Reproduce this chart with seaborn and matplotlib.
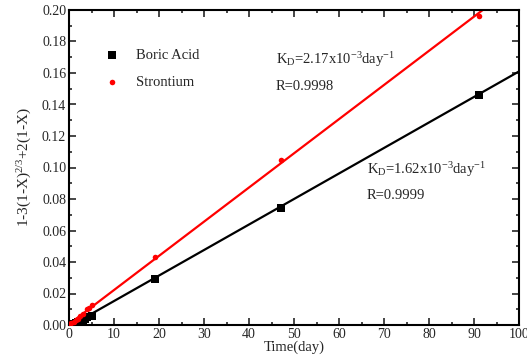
import matplotlib
matplotlib.use("Agg")
import matplotlib.pyplot as plt
import seaborn as sns
import pandas as pd
from matplotlib.ticker import MultipleLocator

sns.set_style("ticks")
plt.rcParams['font.family'] = ['Liberation Serif', 'DejaVu Serif']
plt.rcParams['mathtext.fontset'] = 'custom'
plt.rcParams['mathtext.rm'] = 'Liberation Serif'
plt.rcParams['mathtext.it'] = 'Liberation Serif'
plt.rcParams['mathtext.default'] = 'regular'

# data
boric_x = [0, 0.5, 1, 1.5, 2, 3, 3.5, 4, 5, 19, 47, 91]
boric_y = [0.0, 0.0, 0.0005, 0.001, 0.002, 0.003, 0.004, 0.005, 0.006, 0.029, 0.074, 0.146]
sr_x = [0, 0.5, 1, 1.5, 2, 2.5, 3, 4, 4.5, 5, 19, 47, 91]
sr_y = [0.0005, 0.001, 0.002, 0.003, 0.004, 0.006, 0.007, 0.010, 0.011, 0.0125, 0.043, 0.105, 0.196]
fit_x = [0, 100]
boric_fit = [-0.001, 0.161]
sr_fit = [0.0005, 0.2175]

fig = plt.figure(figsize=(5.27, 3.63), dpi=100)
ax = fig.add_axes([69/527, 38/363, 450/527, 315/363])

sns.lineplot(x=fit_x, y=boric_fit, color='black', lw=1.6, ax=ax)
sns.lineplot(x=fit_x, y=sr_fit, color='red', lw=1.6, ax=ax)
sns.scatterplot(x=boric_x, y=boric_y, marker='s', s=40, color='black', edgecolor='black',
                linewidth=0, ax=ax, label='Boric Acid', zorder=3)
sns.scatterplot(x=sr_x, y=sr_y, marker='o', s=16, color='red', edgecolor='red',
                linewidth=0, ax=ax, label='Strontium', zorder=3)

ax.set_xlim(0, 100)
ax.set_ylim(0, 0.20)
ax.xaxis.set_major_locator(MultipleLocator(10))
ax.xaxis.set_minor_locator(MultipleLocator(5))
ax.yaxis.set_major_locator(MultipleLocator(0.02))
ax.yaxis.set_minor_locator(MultipleLocator(0.01))
ax.yaxis.set_major_formatter(matplotlib.ticker.FormatStrFormatter('%.2f'))
ax.tick_params(which='both', direction='in', top=True, right=True, labelsize=10, width=1.2)
ax.tick_params(which='major', length=5, pad=2)
ax.tick_params(which='minor', length=2.5)
for s in ax.spines.values():
    s.set_linewidth(1.5)
    s.set_color('black')

ax.set_xlabel('Time(day)', fontsize=10.5, labelpad=0)
ax.set_ylabel(r'1-3(1-X)$^{2/3}$+2(1-X)', fontsize=11, labelpad=6)

ax.legend(loc='upper left', bbox_to_anchor=(0.035, 0.92), frameon=False, fontsize=10.5,
          handletextpad=0.6, labelspacing=1.0, markerscale=1.0)

ax.text(46, 0.166, r'K$_D$=2.17x10$^{-3}$day$^{-1}$', fontsize=10.5)
ax.text(46, 0.149, 'R=0.9998', fontsize=10.5)
ax.text(66.2, 0.096, r'K$_D$=1.62x10$^{-3}$day$^{-1}$', fontsize=10.5)
ax.text(66.2, 0.080, 'R=0.9999', fontsize=10.5)

fig.savefig('out.png', dpi=100)
